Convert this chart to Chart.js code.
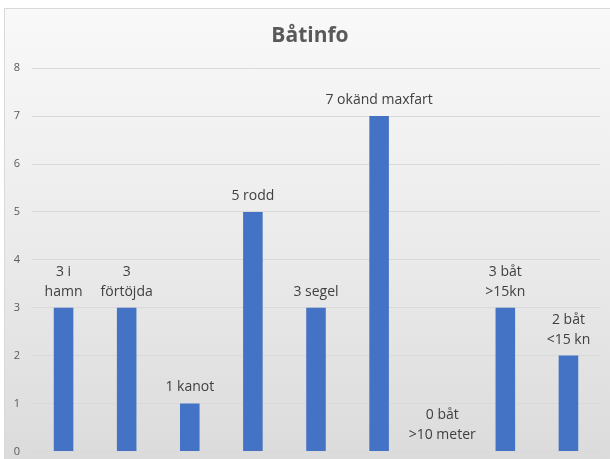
<!DOCTYPE html>
<html>
<head>
<meta charset="utf-8">
<script src="https://cdn.jsdelivr.net/npm/chart.js@4/dist/chart.umd.min.js"></script>
<style>
  html, body { margin: 0; padding: 0; background: #ffffff; overflow: hidden; }
  #frame {
    position: absolute; left: 4px; top: 8px; width: 640px; height: 480px;
    border: 1px solid #d9d9d9;
    background: linear-gradient(to bottom, #f9f9f9 0%, #e9e9e9 55%, #d9d9d9 100%);
  }
  #wrap { position: absolute; left: 0; top: 0; width: 610px; height: 470px; }
</style>
</head>
<body>
<div id="frame"></div>
<div id="wrap"><canvas id="bCanv"></canvas></div>
<script>
const categories = ["i hamn", "förtöjda", "kanot", "rodd", "segel", "okänd maxfart", "båt >10 meter", "båt >15kn", "båt <15 kn"];
const counts = [3, 3, 1, 5, 3, 7, 0, 3, 2];
const labelLines = [
  ["3 i", "hamn"],
  ["3", "förtöjda"],
  ["1 kanot"],
  ["5 rodd"],
  ["3 segel"],
  ["7 okänd maxfart"],
  ["0 båt", ">10 meter"],
  ["3 båt", ">15kn"],
  ["2 båt", "<15 kn"]
];
const yTicks = [0, 1, 2, 3, 4, 5, 6, 7, 8];

// data labels above each bar, taken from the bar elements
const barLabels = {
  id: "barLabels",
  afterLayout(chart) {
    // title sits centred on the whole frame, not the plot box
    if (chart.titleBlock) {
      chart.titleBlock.left += 10;
      chart.titleBlock.right += 10;
    }
  },
  afterDatasetsDraw(chart) {
    const ctx = chart.ctx;
    const meta = chart.getDatasetMeta(0);
    ctx.save();
    ctx.font = "14px 'Open Sans'";
    ctx.fillStyle = "#404040";
    ctx.textAlign = "center";
    ctx.textBaseline = "middle";
    meta.data.forEach((bar, i) => {
      const lines = labelLines[i];
      lines.forEach((txt, j) => {
        const y = bar.y - 16 - (lines.length - 1 - j) * 20;
        ctx.fillText(txt, bar.x, y);
      });
    });
    ctx.restore();
  }
};

new Chart(document.getElementById("bCanv"), {
  type: "bar",
  data: {
    labels: categories,
    datasets: [{
      data: counts,
      backgroundColor: "#4472c4",
      borderWidth: 0,
      barPercentage: 0.31,
      categoryPercentage: 1.0
    }]
  },
  options: {
    responsive: true,
    maintainAspectRatio: false,
    animation: false,
    layout: { padding: { left: 0, right: 10, top: 0, bottom: 8 } },
    plugins: {
      legend: { display: false },
      tooltip: { enabled: false },
      title: {
        display: true,
        text: "Båtinfo",
        color: "#595959",
        font: { family: "'Open Sans'", size: 21, weight: "bold" },
        padding: { top: 23, bottom: 20 }
      }
    },
    scales: {
      x: { display: false },
      y: {
        min: 0,
        max: 8,
        afterFit: s => { s.width = 32; },
        afterBuildTicks: s => { s.ticks = yTicks.map(v => ({ value: v })); },
        border: { display: false },
        grid: { color: "#d9d9d9", drawTicks: false, lineWidth: 1 },
        ticks: {
          color: "#595959",
          font: { family: "'Open Sans'", size: 11 },
          padding: 12
        }
      }
    }
  },
  plugins: [barLabels]
});
</script>
</body>
</html>
